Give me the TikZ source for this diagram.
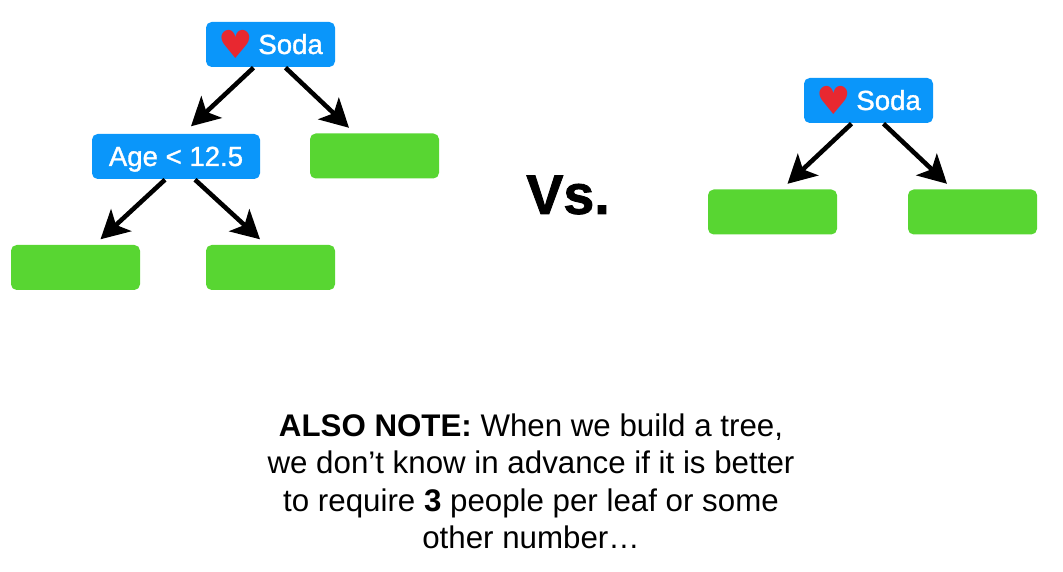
\documentclass[tikz,border=0pt]{standalone}
\usepackage{fontspec}
\setmainfont{Liberation Sans}
\newfontfamily\heartfont{DejaVu Sans}
\newfontfamily\boxfont[FakeBold=1.2]{Liberation Sans}
\newfontfamily\vsfont[FakeBold=1.6]{Liberation Sans Bold}
\usetikzlibrary{arrows.meta, positioning}
\definecolor{splitblue}{RGB}{10,150,250}
\definecolor{leafgreen}{RGB}{88,214,50}
\definecolor{heartred}{RGB}{232,40,48}
\newcommand{\lovesoda}{\raisebox{-1.4pt}[0pt][0pt]{\heartfont\color{heartred}\fontsize{11}{11}\selectfont\char"2665}\hspace{0.2em}Soda}

\begin{document}
\begin{tikzpicture}[
      b/.style={rectangle, rounded corners=1.6pt, fill=splitblue, text=white, minimum height=0.45cm, inner sep=0pt, text height=6pt, text depth=0.6pt, font=\fontsize{7.85}{8}\boxfont},
      l/.style={rectangle, rounded corners=1.6pt, fill=leafgreen, minimum width=1.29cm, minimum height=0.45cm, inner sep=0pt},
      arr/.style={-{Stealth[length=8pt, width=8.5pt, inset=2pt]}, line width=1.3pt, black},
    ]
      \useasboundingbox (0,0) rectangle (10.63,5.72);
      % left tree
      \node[b, minimum width=1.29cm] (soda1) at (2.705,5.275) {\lovesoda};
      \node[b, minimum width=1.68cm] (age) at (1.76,4.155) {Age < 12.5};
      \node[l] (l1) at (3.745,4.16) {};
      \node[l] (l2) at (0.755,3.045) {};
      \node[l] (l3) at (2.705,3.045) {};
      \draw[arr] ([xshift=-0.17cm]soda1.south) -- ([xshift=0.15cm, yshift=0.07cm]age.north);
      \draw[arr] ([xshift=0.15cm]soda1.south) -- ([xshift=-0.255cm, yshift=0.05cm]l1.north);
      \draw[arr] ([xshift=-0.11cm]age.south) -- ([xshift=0.25cm, yshift=0.05cm]l2.north);
      \draw[arr] ([xshift=0.19cm]age.south) -- ([xshift=-0.105cm, yshift=0.05cm]l3.north);
      % right tree
      \node[b, minimum width=1.29cm] (soda2) at (8.685,4.715) {\lovesoda};
      \node[l] (l4) at (7.725,3.6) {};
      \node[l] (l5) at (9.725,3.6) {};
      \draw[arr] ([xshift=-0.17cm]soda2.south) -- ([xshift=0.15cm, yshift=0.05cm]l4.north);
      \draw[arr] ([xshift=0.15cm]soda2.south) -- ([xshift=-0.255cm, yshift=0.05cm]l5.north);
      % text
      \node[font=\fontsize{15.8}{16}\vsfont] (vs) at (5.68,3.77) {Vs.};
      \node[align=center, font=\fontsize{8.9}{10.65}\selectfont] (note) at (5.31,0.905) {\textbf{ALSO NOTE:} When we build a tree,\\we don’t know in advance if it is better\\to require \textbf{3} people per leaf or some\\other number…};
    \end{tikzpicture}
\end{document}
